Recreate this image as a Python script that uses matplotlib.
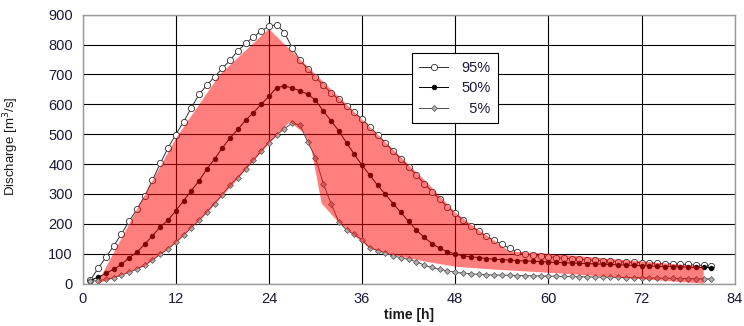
import numpy as np
import matplotlib.pyplot as plt

# zeit in stunden, ein wert pro stunde
hours = list(range(1, 82))

q95 = [12, 51, 88, 126, 166, 209, 249, 293, 346, 402, 454, 499, 541, 588, 633, 664, 692, 720,
       748, 779, 804, 825, 845, 861, 867, 840, 789, 748, 718, 690, 664, 638, 617, 594, 573, 550,
       525, 498, 471, 443, 418, 391, 363, 335, 308, 282, 257, 235, 213, 192, 175, 158, 145, 132,
       118, 106, 99, 95, 92, 90, 87, 85, 83, 81, 79, 78, 76, 75, 73, 72, 71, 70, 69, 68, 67, 66,
       65, 64, 62, 61, 59]

q50 = [10, 22, 34, 48, 64, 87, 105, 132, 160, 190, 212, 244, 277, 311, 344, 383, 417, 454, 488,
       516, 547, 572, 600, 627, 656, 661, 655, 645, 634, 614, 578, 545, 511, 471, 433, 396, 363,
       329, 299, 268, 238, 208, 179, 155, 134, 118, 107, 99, 93, 90, 87, 84, 82, 80, 79, 77, 76,
       75, 74, 72, 71, 70, 69, 68, 67, 66, 65, 64, 63, 62, 61, 60, 59, 58, 57, 57, 56, 55, 54,
       54, 53]

q05 = [8, 10, 14, 20, 28, 38, 49, 62, 79, 98, 116, 138, 162, 187, 212, 240, 268, 298, 330, 355,
       385, 413, 444, 472, 497, 519, 537, 531, 474, 422, 335, 268, 207, 179, 165, 146, 120, 110,
       103, 92, 87, 81, 73, 62, 54, 48, 43, 38, 35, 33, 31, 30, 29, 28, 28, 27, 27, 26, 26, 25,
       25, 24, 24, 23, 23, 22, 22, 21, 21, 20, 20, 20, 19, 19, 18, 18, 17, 17, 16, 16, 16]

# rote flaeche (band), obere und untere kante
band_top_t = [1.9, 8, 12, 17.7, 24, 44.5, 48, 51, 55, 60, 80]
band_top_q = [0, 296, 485, 700, 852, 335, 238, 180, 108, 100, 57]
band_bot_t = [1.9, 4, 8, 12, 16, 20, 24, 26.7, 28.6, 29.5, 30.8, 32.9, 35, 37, 40, 44.3, 48.2,
              53, 61, 80]
band_bot_q = [0, 18, 58, 135, 235, 350, 468, 541, 502, 447, 268, 207, 160, 118, 95, 73, 56,
              47, 35, 0]

plt.rcParams['font.family'] = ['Liberation Sans', 'DejaVu Sans']

fig = plt.figure(figsize=(7.44, 3.26), dpi=100)
ax = fig.add_axes([0.111, 0.130, 0.8765, 0.825])

ax.plot(hours, q95, color='#303030', lw=0.7, marker='o', ms=4.5, mfc='white',
        mec='#303030', mew=0.6, label='95%', zorder=2)
ax.plot(hours, q50, color='black', lw=0.7, marker='o', ms=3.4, mfc='black',
        mec='black', mew=0.5, label='50%', zorder=2)
ax.plot(hours, q05, color='#505050', lw=0.7, marker='D', ms=3.0, mfc='#b0b0b0',
        mec='#505050', mew=0.5, label='  5%', zorder=2)

# polygon aus oberer kante + umgekehrter unterer kante
poly_t = band_top_t + band_bot_t[::-1]
poly_q = band_top_q + band_bot_q[::-1]
ax.fill(poly_t, poly_q, color='red', alpha=0.5, lw=0, zorder=3)

ax.set_xlim(0, 84)
ax.set_ylim(0, 900)
ax.set_xticks(range(0, 85, 12))
ax.set_yticks(range(0, 901, 100))
ax.grid(True, color='black', lw=0.8)
ax.set_axisbelow(True)
for s in ax.spines.values():
    s.set_color('#9a9a9a')
    s.set_linewidth(1.0)
ax.tick_params(length=0, labelsize=10.5, labelcolor='#1a1a3a')
ax.tick_params(axis='y', pad=7)
ax.tick_params(axis='x', pad=6)

ax.set_ylabel('Discharge [m$^3$/s]', fontsize=9.5, color='#1a1a1a')
ax.yaxis.set_label_coords(-0.095, 0.51)
ax.set_xlabel('time [h]', fontsize=10, fontweight='bold', color='#1a1a1a')
ax.xaxis.set_label_coords(0.5, -0.09)

leg = ax.legend(loc='upper left', bbox_to_anchor=(0.505, 0.856), borderaxespad=0,
                fancybox=False, edgecolor='black', framealpha=1, fontsize=10.5,
                handlelength=2.0, labelspacing=0.45, borderpad=0.5, handletextpad=0.9)
leg.get_frame().set_linewidth(0.8)
for txt in leg.get_texts():
    txt.set_color('#1a1a3a')

fig.savefig('out.png', dpi=100)
